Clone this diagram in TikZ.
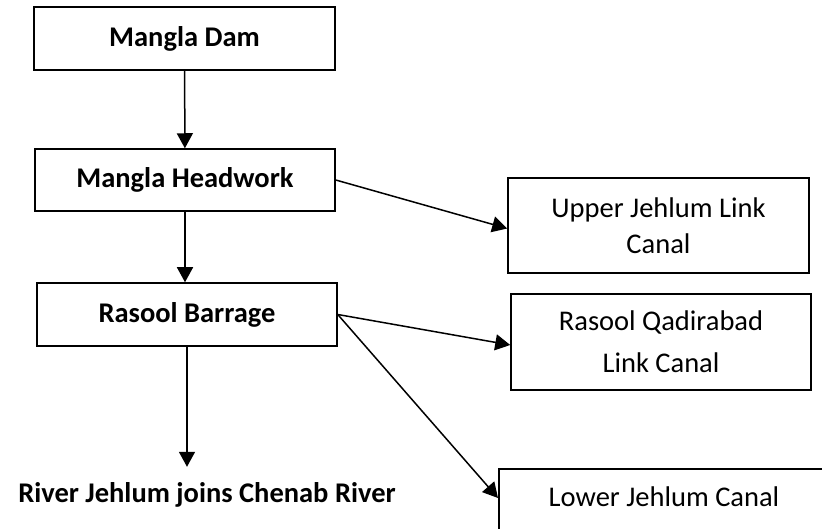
\documentclass[tikz,border=0pt]{standalone}
\usepackage{fontspec}
\setmainfont{Carlito}
\usetikzlibrary{arrows.meta,calc}
\begin{document}
\begin{tikzpicture}[x=1pt,y=-1pt,
  box/.style={draw,line width=1.5pt,minimum width=300pt,minimum height=62pt,inner sep=0pt,font=\fontsize{28.5}{34}\selectfont\bfseries},
  sbox/.style={draw,line width=1.5pt,minimum width=300pt,minimum height=95pt,inner sep=0pt,align=center},
  arr/.style={line width=1.5pt,-{Triangle[length=15pt,width=16pt]}}]
\useasboundingbox (0,0) rectangle (822,529);
\clip (0,0) rectangle (822,529);
\node[box,minimum width=301pt,minimum height=63pt] (md) at (184.5,38.5) {Mangla Dam};
\node[box] (hw) at (185,180) {Mangla Headwork};
\node[box,minimum height=63pt] (rb) at (187,314.5) {Rasool Barrage};
\node[sbox,minimum width=301pt,font=\fontsize{28.5}{36}\selectfont] (uj) at (658.5,225.5) {Upper Jehlum Link\\Canal};
\node[sbox,minimum height=96pt,font=\fontsize{28.5}{42}\selectfont] (rq) at (661,342) {Rasool Qadirabad\\Link Canal};
\node[draw,line width=1.5pt,minimum width=340pt,minimum height=120pt,inner sep=0pt,anchor=north west] (lj) at (498,468) {};
\node[anchor=base,inner sep=0pt,font=\fontsize{28.5}{34}\selectfont] (ljt) at (664,506) {Lower Jehlum Canal};
\node[anchor=base,inner sep=0pt,text height=20pt,text depth=6pt,font=\fontsize{28.5}{34}\selectfont\bfseries] (rv) at (207,502) {River Jehlum joins Chenab River};
\coordinate (rvtop) at ([yshift=15pt]rv.north);
\draw[arr] (md) -- (hw);
\draw[arr] (hw.south) -- (hw.south |- rb.north);
\draw[arr] (rb.south) -- (rb.south |- rvtop);
\draw[arr] (hw.east) -- ([yshift=-3pt]uj.west);
\draw[arr] (rb.east) -- ([yshift=-3pt]rq.west);
\draw[arr] (rb.east) -- ([yshift=-30pt]lj.north west);
\end{tikzpicture}
\end{document}
